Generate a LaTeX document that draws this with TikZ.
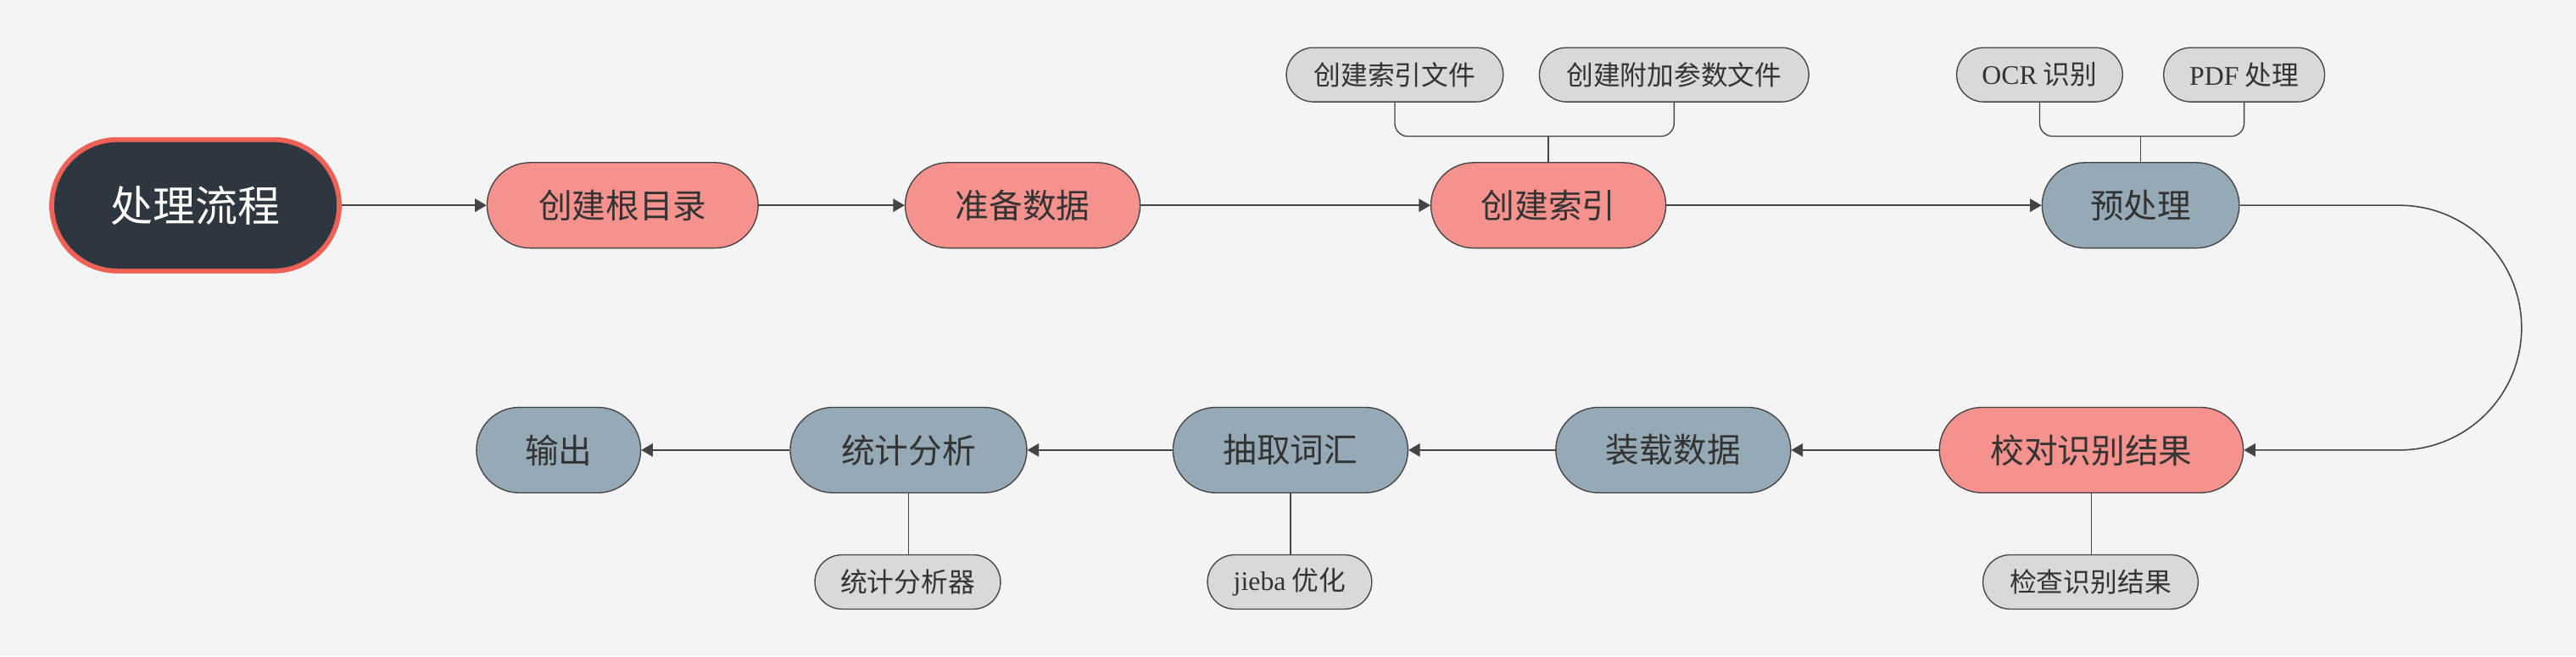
\documentclass[tikz,border=0pt]{standalone}
\usepackage{fontspec}
\setmainfont{Liberation Serif}
\newfontfamily\cjk{Noto Sans CJK SC}
\usetikzlibrary{arrows.meta}
\definecolor{bg}{HTML}{F4F4F4}
\definecolor{salmon}{HTML}{F5928D}
\definecolor{slate}{HTML}{95AAB6}
\definecolor{lgray}{HTML}{D9D9D9}
\definecolor{edgec}{HTML}{444444}
\definecolor{txt}{HTML}{333333}
\definecolor{rootfill}{HTML}{2E363F}
\definecolor{rootedge}{HTML}{EE6157}
\begin{document}
\begin{tikzpicture}[x=1pt,y=1pt,
  base/.style={draw=edgec, line width=0.7pt, inner sep=0pt, text=txt},
  rootnode/.style={draw=rootedge, fill=rootfill, line width=3pt, inner sep=0pt, text=white,
    minimum height=80pt, rounded corners=40pt, font=\cjk\fontsize{25.8pt}{30pt}\selectfont},
  mainnode/.style={base, minimum height=52pt, rounded corners=26pt, font=\cjk\fontsize{20.5pt}{24pt}\selectfont},
  subnode/.style={base, fill=lgray, minimum height=33pt, rounded corners=16.5pt, font=\cjk\fontsize{16.4pt}{20pt}\selectfont},
  flow/.style={draw=edgec, line width=0.8pt, -{Triangle[length=7pt,width=8pt]}},
  link/.style={draw=edgec, line width=0.7pt},
]
\fill[bg] (0,0) rectangle (1568,-399.5);
\useasboundingbox (0,0) rectangle (1568,-399.5);

\node[rootnode, minimum width=175pt] (root) at (119,-125) {处理流程};
\node[mainnode, fill=salmon, minimum width=165pt] (n1) at (379,-125) {创建根目录};
\node[mainnode, fill=salmon, minimum width=143pt] (n2) at (622.5,-125) {准备数据};
\node[mainnode, fill=salmon, minimum width=143pt] (n3) at (942.5,-125) {创建索引};
\node[mainnode, fill=slate, minimum width=120pt] (n4) at (1303,-125) {预处理};
\node[mainnode, fill=salmon, minimum width=185pt] (n5) at (1273,-274) {校对识别结果};
\node[mainnode, fill=slate, minimum width=143pt] (n6) at (1018.5,-274) {装载数据};
\node[mainnode, fill=slate, minimum width=143pt] (n7) at (785.5,-274) {抽取词汇};
\node[mainnode, fill=slate, minimum width=144pt] (n8) at (553,-274) {统计分析};
\node[mainnode, fill=slate, minimum width=100pt] (n9) at (340,-274) {输出};

\node[subnode, minimum width=132pt] (s1) at (849,-45.5) {创建索引文件};
\node[subnode, minimum width=164pt] (s2) at (1019,-45.5) {创建附加参数文件};
\node[subnode, minimum width=101pt] (s3) at (1241.5,-45.5) {{\rmfamily OCR} 识别};
\node[subnode, minimum width=98pt] (s4) at (1366,-45.5) {{\rmfamily PDF} 处理};
\node[subnode, minimum width=131pt] (s5) at (1272.5,-354.3) {检查识别结果};
\node[subnode, minimum width=100pt] (s6) at (785,-354.3) {{\rmfamily jieba} 优化};
\node[subnode, minimum width=113pt] (s7) at (552.5,-354.3) {统计分析器};

\draw[flow] (root.east) -- (n1.west);
\draw[flow] (n1.east) -- (n2.west);
\draw[flow] (n2.east) -- (n3.west);
\draw[flow] (n3.east) -- (n4.west);
\draw[flow] (n4.east) -- ++(97,0) arc[start angle=90, end angle=-90, radius=74.5pt] -- (n5.east);
\draw[flow] (n5.west) -- (n6.east);
\draw[flow] (n6.west) -- (n7.east);
\draw[flow] (n7.west) -- (n8.east);
\draw[flow] (n8.west) -- (n9.east);

\coordinate (bt) at (0,-83);
\draw[link, rounded corners=8pt] (s1.south) -- (s1.south |- bt) -- (s2.south |- bt) -- (s2.south);
\draw[link] (n3.north) -- (n3.north |- bt);
\draw[link, rounded corners=8pt] (s3.south) -- (s3.south |- bt) -- (s4.south |- bt) -- (s4.south);
\draw[link] (n4.north) -- (n4.north |- bt);

\draw[link] (n5.south) -- (n5.south |- s5.north);
\draw[link] (n7.south) -- (n7.south |- s6.north);
\draw[link] (n8.south) -- (n8.south |- s7.north);
\end{tikzpicture}
\end{document}
